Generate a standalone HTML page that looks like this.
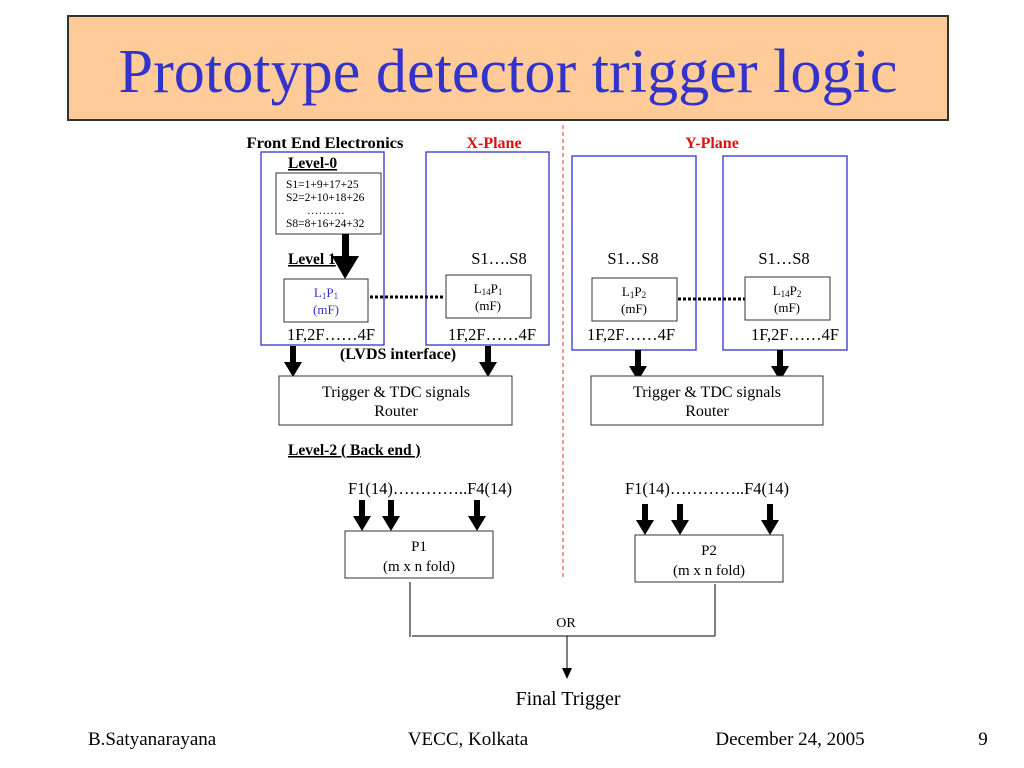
<!DOCTYPE html>
<html><head><meta charset="utf-8"><style>
html,body{margin:0;padding:0;background:#fff;}
svg{display:block;font-family:"Liberation Serif",serif;}
</style></head><body>
<svg width="1024" height="768" viewBox="0 0 1024 768" xmlns="http://www.w3.org/2000/svg">
<defs>
<g id="ta"><rect x="-3" y="0" width="6" height="18" fill="#000"/><polygon points="-9,16 9,16 0,31" fill="#000"/></g>
</defs>
<rect x="68" y="16" width="880" height="104" fill="#FFCC99" stroke="#333" stroke-width="2"/>
<text x="508" y="92" text-anchor="middle" font-size="62" fill="#3333CC" textLength="779" lengthAdjust="spacingAndGlyphs">Prototype detector trigger logic</text>

<line x1="563" y1="125" x2="563" y2="578" stroke="#E03030" stroke-width="1" stroke-dasharray="4,3"/>

<text x="325" y="148" text-anchor="middle" font-size="16" font-weight="bold" textLength="157" lengthAdjust="spacingAndGlyphs">Front End Electronics</text>
<text x="494" y="148" text-anchor="middle" font-size="16" font-weight="bold" fill="#E01010">X-Plane</text>
<text x="712" y="148" text-anchor="middle" font-size="16" font-weight="bold" fill="#E01010">Y-Plane</text>

<rect x="261" y="152" width="123" height="193" fill="none" stroke="#3333CC" stroke-width="1.3"/>
<rect x="426" y="152" width="123" height="193" fill="none" stroke="#3333CC" stroke-width="1.3"/>
<rect x="572" y="156" width="124" height="194" fill="none" stroke="#3333CC" stroke-width="1.3"/>
<rect x="723" y="156" width="124" height="194" fill="none" stroke="#3333CC" stroke-width="1.3"/>

<text x="288" y="168" font-size="15.5" font-weight="bold" text-decoration="underline">Level-0</text>
<rect x="276" y="173" width="105" height="61" fill="#fff" stroke="#333"/>
<text x="286" y="188" font-size="11.5">S1=1+9+17+25</text>
<text x="286" y="201" font-size="11.5">S2=2+10+18+26</text>
<text x="307" y="214" font-size="11.5">……….</text>
<text x="286" y="227" font-size="11.5">S8=8+16+24+32</text>

<text x="288" y="264" font-size="15.5" font-weight="bold" text-decoration="underline">Level 1</text>
<rect x="342" y="234" width="7" height="25" fill="#000"/>
<polygon points="332,256 359,256 345,279" fill="#000"/>

<rect x="284" y="279" width="84" height="43" fill="#fff" stroke="#333"/>
<text x="326" y="297" text-anchor="middle" font-size="13" fill="#3333CC">L<tspan font-size="9" dy="2">1</tspan><tspan dy="-2">P</tspan><tspan font-size="9" dy="2">1</tspan></text>
<text x="326" y="314" text-anchor="middle" font-size="13" fill="#3333CC">(mF)</text>
<line x1="370" y1="297" x2="445" y2="297" stroke="#000" stroke-width="3" stroke-dasharray="3,2"/>

<text x="499" y="264" text-anchor="middle" font-size="16.5">S1….S8</text>
<rect x="446" y="275" width="85" height="43" fill="#fff" stroke="#333"/>
<text x="488" y="293" text-anchor="middle" font-size="13">L<tspan font-size="9" dy="2">14</tspan><tspan dy="-2">P</tspan><tspan font-size="9" dy="2">1</tspan></text>
<text x="488" y="310" text-anchor="middle" font-size="13">(mF)</text>

<text x="633" y="264" text-anchor="middle" font-size="16.5">S1…S8</text>
<rect x="592" y="278" width="85" height="43" fill="#fff" stroke="#333"/>
<text x="634" y="296" text-anchor="middle" font-size="13">L<tspan font-size="9" dy="2">1</tspan><tspan dy="-2">P</tspan><tspan font-size="9" dy="2">2</tspan></text>
<text x="634" y="313" text-anchor="middle" font-size="13">(mF)</text>
<line x1="678" y1="299" x2="745" y2="299" stroke="#000" stroke-width="3" stroke-dasharray="3,2"/>

<text x="784" y="264" text-anchor="middle" font-size="16.5">S1…S8</text>
<rect x="745" y="277" width="85" height="43" fill="#fff" stroke="#333"/>
<text x="787" y="295" text-anchor="middle" font-size="13">L<tspan font-size="9" dy="2">14</tspan><tspan dy="-2">P</tspan><tspan font-size="9" dy="2">2</tspan></text>
<text x="787" y="312" text-anchor="middle" font-size="13">(mF)</text>

<text x="331" y="340" text-anchor="middle" font-size="16.5">1F,2F……4F</text>
<text x="492" y="340" text-anchor="middle" font-size="16.5">1F,2F……4F</text>
<text x="631" y="340" text-anchor="middle" font-size="16.5">1F,2F……4F</text>
<text x="795" y="340" text-anchor="middle" font-size="16.5">1F,2F……4F</text>
<text x="398" y="359" text-anchor="middle" font-size="16" font-weight="bold">(LVDS interface)</text>

<use href="#ta" x="293" y="346"/>
<use href="#ta" x="488" y="346"/>
<use href="#ta" x="638" y="350"/>
<use href="#ta" x="780" y="350"/>

<rect x="279" y="376" width="233" height="49" fill="#fff" stroke="#333"/>
<text x="396" y="397" text-anchor="middle" font-size="16">Trigger &amp; TDC signals</text>
<text x="396" y="416" text-anchor="middle" font-size="16">Router</text>
<rect x="591" y="376" width="232" height="49" fill="#fff" stroke="#333"/>
<text x="707" y="397" text-anchor="middle" font-size="16">Trigger &amp; TDC signals</text>
<text x="707" y="416" text-anchor="middle" font-size="16">Router</text>

<text x="288" y="455" font-size="15.5" font-weight="bold" text-decoration="underline">Level-2 ( Back end )</text>

<text x="430" y="494" text-anchor="middle" font-size="16.5">F1(14)…………..F4(14)</text>
<text x="707" y="494" text-anchor="middle" font-size="16.5">F1(14)…………..F4(14)</text>
<use href="#ta" x="362" y="500"/>
<use href="#ta" x="391" y="500"/>
<use href="#ta" x="477" y="500"/>
<use href="#ta" x="645" y="504"/>
<use href="#ta" x="680" y="504"/>
<use href="#ta" x="770" y="504"/>

<rect x="345" y="531" width="148" height="47" fill="#fff" stroke="#333"/>
<text x="419" y="551" text-anchor="middle" font-size="15">P1</text>
<text x="419" y="571" text-anchor="middle" font-size="15">(m x n fold)</text>
<rect x="635" y="535" width="148" height="47" fill="#fff" stroke="#333"/>
<text x="709" y="555" text-anchor="middle" font-size="15">P2</text>
<text x="709" y="575" text-anchor="middle" font-size="15">(m x n fold)</text>

<line x1="410" y1="582" x2="410" y2="637" stroke="#000"/>
<line x1="715" y1="584" x2="715" y2="636" stroke="#000"/>
<line x1="412" y1="636" x2="715" y2="636" stroke="#000"/>
<text x="566" y="627" text-anchor="middle" font-size="14">OR</text>
<line x1="567" y1="636" x2="567" y2="670" stroke="#000"/>
<polygon points="562,668 572,668 567,679" fill="#000"/>
<text x="568" y="705" text-anchor="middle" font-size="20">Final Trigger</text>

<text x="88" y="745" font-size="19">B.Satyanarayana</text>
<text x="468" y="745" text-anchor="middle" font-size="19">VECC, Kolkata</text>
<text x="790" y="745" text-anchor="middle" font-size="19">December 24, 2005</text>
<text x="983" y="745" text-anchor="middle" font-size="19">9</text>
</svg>
</body></html>
